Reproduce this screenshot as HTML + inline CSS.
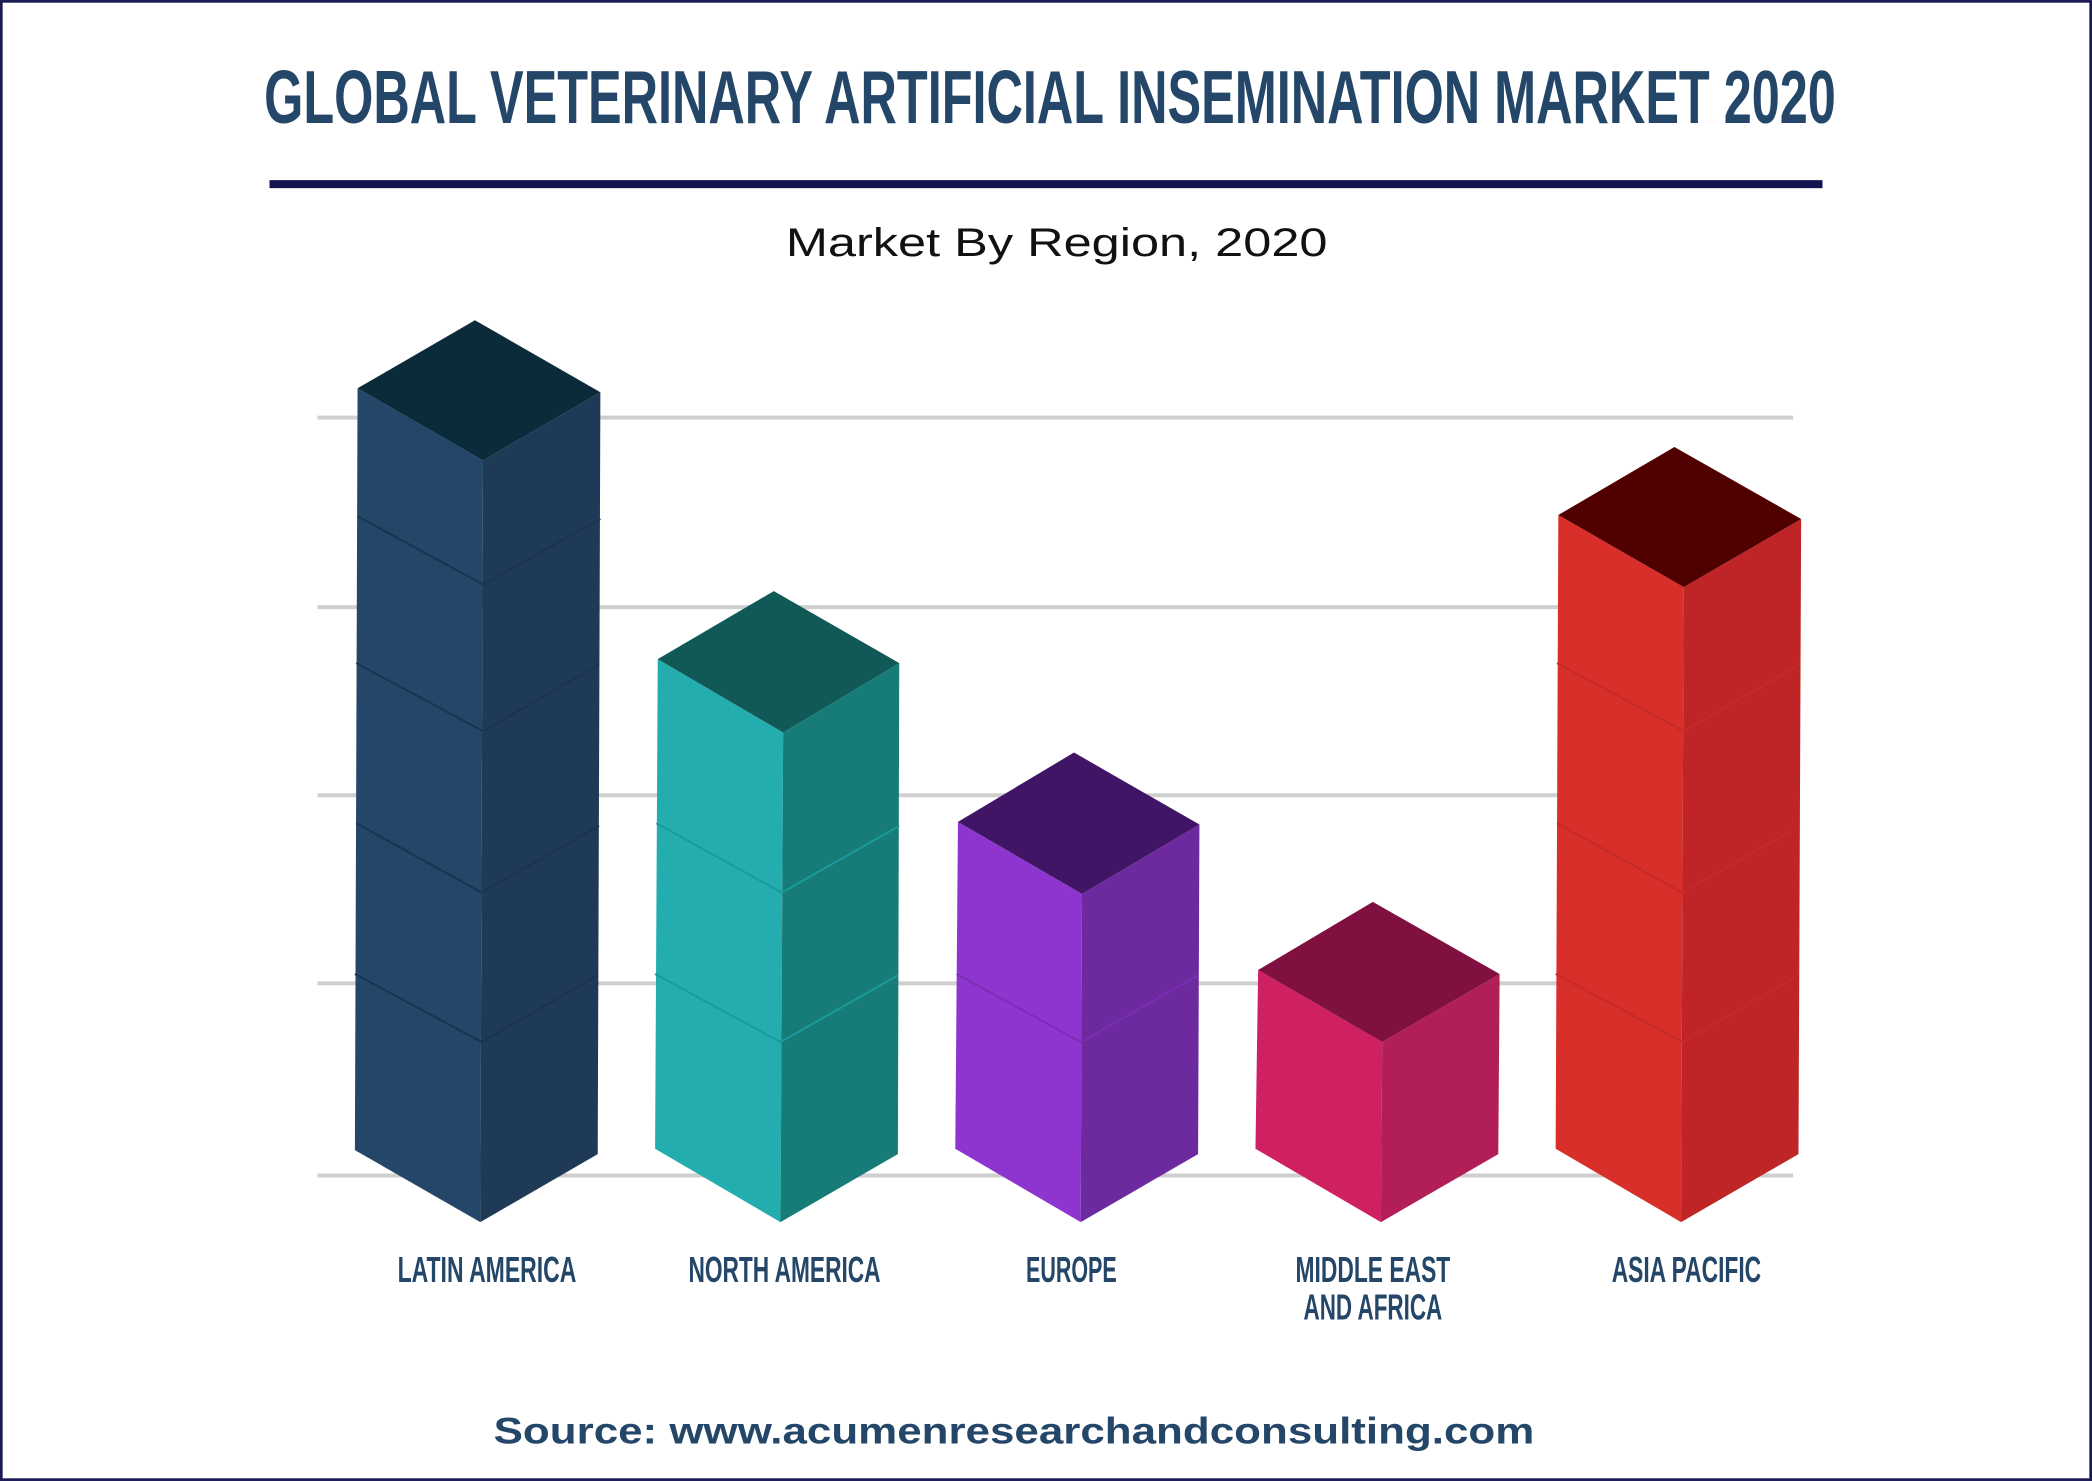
<!DOCTYPE html>
<html><head><meta charset="utf-8"><style>
html,body{margin:0;padding:0;background:#fff;}
svg{display:block;}
</style></head><body>
<svg width="2092" height="1481" viewBox="0 0 1568 1110" xmlns="http://www.w3.org/2000/svg">
<rect x="0" y="0" width="1568" height="1110" fill="#fff"/>
<rect x="1" y="1" width="1566" height="1108" fill="none" stroke="#1b1a55" stroke-width="2"/>
<text x="787" y="92" text-anchor="middle" font-family="'Liberation Sans Narrow','Liberation Sans',sans-serif" font-weight="bold" font-size="56" fill="#244668" textLength="1178" lengthAdjust="spacingAndGlyphs">GLOBAL VETERINARY ARTIFICIAL INSEMINATION MARKET 2020</text>
<rect x="202" y="135" width="1164" height="6" fill="#14124f"/>
<text x="792" y="192" text-anchor="middle" font-family="'Liberation Sans',sans-serif" font-size="30" fill="#111" textLength="406" lengthAdjust="spacingAndGlyphs">Market By Region, 2020</text>
<g stroke="#cfcfcf" stroke-width="3">
<line x1="238" y1="313" x2="1344" y2="313"/>
<line x1="238" y1="455" x2="1344" y2="455"/>
<line x1="238" y1="596" x2="1344" y2="596"/>
<line x1="238" y1="737" x2="1344" y2="737"/>
<line x1="238" y1="881" x2="1344" y2="881"/>
</g>
<!-- Latin America -->
<polygon points="268,291 362,345 360,916 266,862" fill="#244668"/>
<polygon points="362,345 450,294 448,865 360,916" fill="#1e3a56"/>
<polygon points="268,291 356,240 450,294 362,345" fill="#0b2a3a"/>
<g stroke="#1a3450" stroke-width="1.5" fill="none">
<polyline points="268,387 362,438 450,389"/>
<polyline points="267,497 362,548 449,498"/>
<polyline points="267,617 361,669 449,619"/>
<polyline points="266,730 361,781 448,731"/>
</g>
<!-- North America -->
<polygon points="493,494 587,549 585,916 491,861" fill="#23adaf"/>
<polygon points="587,549 674,497 673,865 585,916" fill="#177b78"/>
<polygon points="493,494 580,443 674,497 587,549" fill="#105957"/>
<g stroke="#1a9a9a" stroke-width="1.5" fill="none">
<polyline points="492,617 586,669 674,619"/>
<polyline points="491,730 585,781 673,731"/>
</g>
<!-- Europe -->
<polygon points="718,616 811,670 810,916 716,861" fill="#8e35d0"/>
<polygon points="811,670 899,618 898,865 810,916" fill="#6c2a9e"/>
<polygon points="718,616 805,564 899,618 811,670" fill="#401566"/>
<g stroke="#7a2db5" stroke-width="1.5" fill="none">
<polyline points="717,730 810,781 898,731"/>
</g>
<!-- MEA -->
<polygon points="943,727 1036,781 1035,916 941,861" fill="#cf2062"/>
<polygon points="1036,781 1124,730 1123,865 1035,916" fill="#b21e57"/>
<polygon points="943,727 1029,676 1124,730 1036,781" fill="#7f103f"/>
<!-- Asia Pacific -->
<polygon points="1168,386 1262,440 1260,916 1166,861" fill="#d92f2a"/>
<polygon points="1262,440 1350,389 1348,865 1260,916" fill="#bf2526"/>
<polygon points="1168,386 1255,335 1350,389 1262,440" fill="#510000"/>
<g stroke="#c42a27" stroke-width="1.5" fill="none">
<polyline points="1167,497 1262,548 1349,498"/>
<polyline points="1167,617 1261,669 1349,619"/>
<polyline points="1166,730 1261,781 1348,731"/>
</g>
<g font-family="'Liberation Sans Narrow','Liberation Sans',sans-serif" font-weight="bold" font-size="27" fill="#244668" text-anchor="middle">
<text x="365" y="961" textLength="134" lengthAdjust="spacingAndGlyphs">LATIN AMERICA</text>
<text x="588" y="961" textLength="144" lengthAdjust="spacingAndGlyphs">NORTH AMERICA</text>
<text x="803" y="961" textLength="68" lengthAdjust="spacingAndGlyphs">EUROPE</text>
<text x="1029" y="961" textLength="116" lengthAdjust="spacingAndGlyphs">MIDDLE EAST</text>
<text x="1029" y="989" textLength="104" lengthAdjust="spacingAndGlyphs">AND AFRICA</text>
<text x="1264" y="961" textLength="112" lengthAdjust="spacingAndGlyphs">ASIA PACIFIC</text>
</g>
<text x="760" y="1082" text-anchor="middle" font-family="'Liberation Sans',sans-serif" font-weight="bold" font-size="28" fill="#244668" textLength="780" lengthAdjust="spacingAndGlyphs">Source: www.acumenresearchandconsulting.com</text>
</svg>
</body></html>
